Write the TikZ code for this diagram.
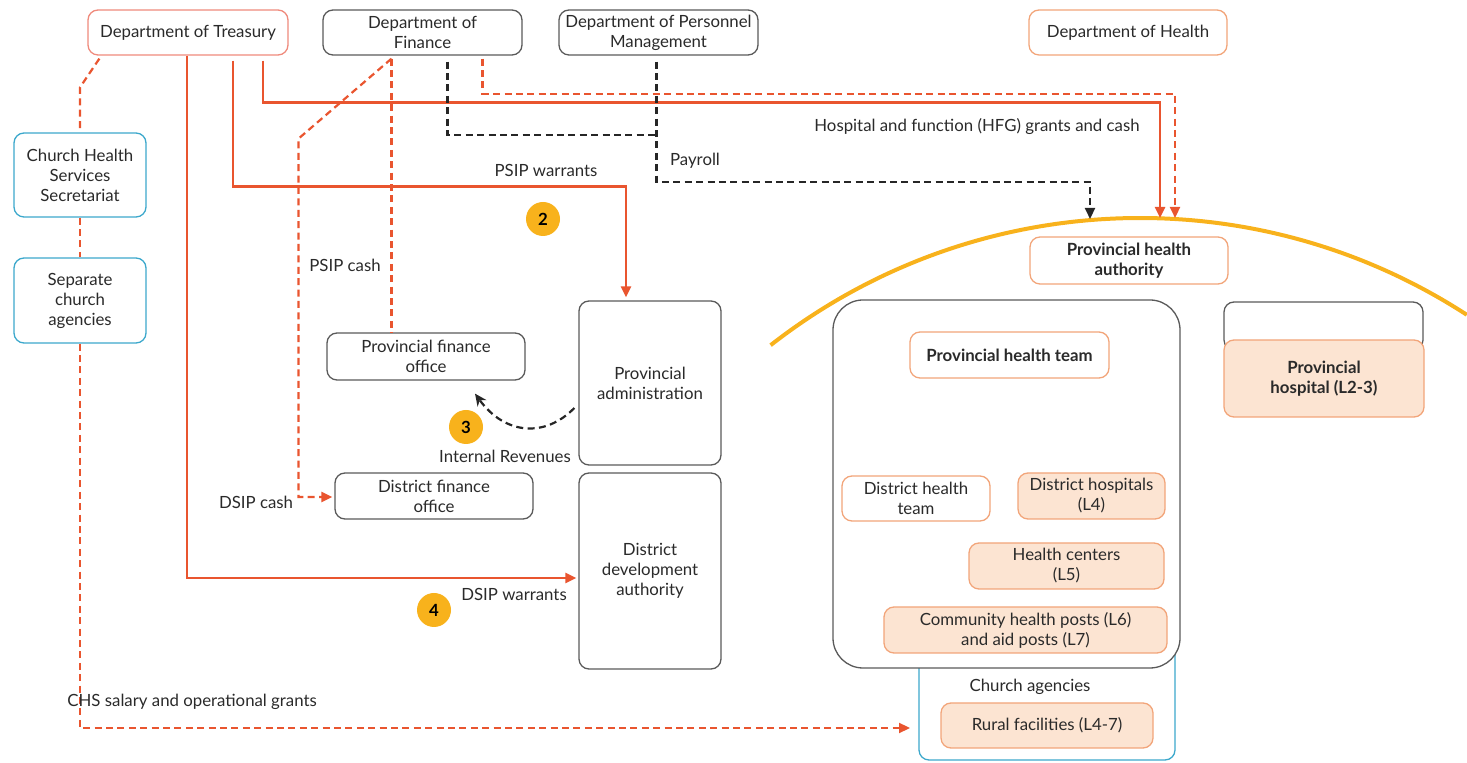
\documentclass[tikz,border=0pt]{standalone}
\usepackage{fontspec}
\setmainfont{Lato}
\usetikzlibrary{arrows.meta,calc}
\definecolor{redl}{HTML}{E9552F}
\definecolor{trb}{HTML}{EF8A7C}
\definecolor{orb}{HTML}{F2A57A}
\definecolor{peach}{HTML}{FCE4D2}
\definecolor{blueb}{HTML}{3CA8CC}
\definecolor{grayb}{HTML}{5A5A5A}
\definecolor{yel}{HTML}{F8B21C}
\definecolor{txt}{HTML}{2A2A2A}
\begin{document}
\begin{tikzpicture}[x=0.5pt,y=-0.5pt,
  font=\fontsize{8.4}{10}\selectfont, text=txt,
  box/.style={draw=grayb, line width=0.65pt, rounded corners=5pt, align=center, inner sep=0pt, fill=white},
  trbox/.style={box, draw=trb},
  orbox/.style={box, draw=orb},
  fbox/.style={box, draw=orb, fill=peach},
  blbox/.style={box, draw=blueb},
  solidr/.style={draw=redl, line width=1.2pt, -{Triangle[length=5.5pt,width=5pt]}},
  dashr/.style={draw=redl, line width=1.1pt, dash pattern=on 3.5pt off 2.2pt},
  dashk/.style={draw=black!85, line width=1.1pt, dash pattern=on 3.5pt off 2.2pt},
  tipr/.style={-{Triangle[length=5.5pt,width=5pt]}},
  bold/.style={font=\fontsize{8.4}{10}\selectfont\bfseries},
  badge/.style={circle, fill=yel, minimum size=17pt, inner sep=0pt, font=\fontsize{8.4}{10}\selectfont\bfseries, text=black},
  lbl/.style={inner sep=0pt}
]
\useasboundingbox (0,0) rectangle (1467,763);

% yellow arc
\draw[draw=yel, line width=2pt] (1140,818) ++(-128:600) arc[start angle=-128, end angle=-57, radius=600];

% top departments
\node[trbox, minimum width=100pt, minimum height=22.5pt] (Tre) at (188,32.5) {Department of Treasury};
\node[box, minimum width=99.5pt, minimum height=22.5pt] (Fin) at (422.5,32.5) {Department of\\Finance};
\node[box, minimum width=99.5pt, minimum height=22.5pt] (Per) at (658.5,32.5) {Department of Personnel\\Management};
\node[orbox, minimum width=99pt, minimum height=22.5pt] (Hea) at (1128,32.5) {Department of Health};

% church column
\node[blbox, minimum width=66pt, minimum height=42pt] (CHS) at (80,175) {Church Health\\Services\\Secretariat};
\node[blbox, minimum width=66pt, minimum height=42.5pt] (Sep) at (80,300.5) {Separate\\church\\agencies};

% middle column
\node[box, minimum width=99pt, minimum height=23.5pt] (PFO) at (426,356.5) {Provincial finance\\office};
\node[box, minimum width=71pt, minimum height=82pt] (PA) at (650,383) {Provincial\\administration};
\node[box, minimum width=99pt, minimum height=23pt] (DFO) at (434,496) {District finance\\office};
\node[box, minimum width=71pt, minimum height=98pt] (DDA) at (650,571) {District\\development\\authority};

% health side
\node[orbox, bold, minimum width=99pt, minimum height=23.5pt] (PHA) at (1129,260.5) {Provincial health\\authority};

\draw[draw=blueb, line width=0.65pt, rounded corners=5pt, fill=white] (919,640) rectangle (1175,760);
\node[lbl] (ChA) at (1030,687) {Church agencies};
\node[fbox, minimum width=106pt, minimum height=22.5pt] (RF) at (1047,725.5) {Rural facilities (L4-7)};

\node[box, rounded corners=15pt, minimum width=173.5pt, minimum height=184pt] (Big) at (1006.5,484) {};
\node[orbox, bold, minimum width=99.5pt, minimum height=23pt] (PHT) at (1009.5,355) {Provincial health team};
\node[box, minimum width=99.5pt, minimum height=24pt] (Emp) at (1323.5,326) {};
\node[fbox, bold, minimum width=100pt, minimum height=38.5pt] (PH) at (1324,378.5) {Provincial\\hospital (L2-3)};
\node[orbox, minimum width=74pt, minimum height=22.5pt] (DHT) at (916,498.5) {District health\\team};
\node[fbox, minimum width=73.5pt, minimum height=23pt] (DH) at (1091.5,496) {District hospitals\\(L4)};
\node[fbox, minimum width=97.5pt, minimum height=23pt] (HC) at (1066.5,566) {Health centers\\(L5)};
\node[fbox, minimum width=141.5pt, minimum height=23pt] (CHP) at (1025.5,630) {Community health posts (L6)\\and aid posts (L7)};

% arc targets
\coordinate (arcK) at (1090,219);
\coordinate (arcR) at (1160,218);
\coordinate (arcD) at (1175,218);
\coordinate (chsEnd) at (910,728);

% church connectors
\draw[dashr] ($(Tre.south west)+(12,3)$) -- ($(CHS.north)+(0,-45)$) -- (CHS.north);
\draw[dashr] (CHS.south) -- (Sep.north);
\draw[dashr, tipr] (Sep.south) |- (chsEnd);
\node[lbl, anchor=west] (lCHS) at (67,702) {CHS salary and operational grants};

% treasury solid flows
\draw[solidr] ($(Tre.south)+(-1,0)$) |- ($(DDA.west)+(-2,7)$);
\draw[solidr] ($(Tre.south)+(45,5)$) -- ++(0,126) -| ($(PA.north)+(-24,-3)$);
\draw[solidr] ($(Tre.south)+(75,5)$) -- ++(0,42) -| (arcR);

% finance dashed flows
\coordinate (finA) at ($(Fin.south)+(-31,3)$);
\draw[dashr, tipr] (finA) -- ($(finA)+(-93,80)$) |- ($(DFO.west)+(-2,1)$);
\draw[dashr] (finA) -- (PFO.north -| finA);
\draw[dashr, tipr] ($(Fin.south)+(60,3)$) -- ++(0,35) -| (arcD);

% payroll
\draw[dashk] ($(Fin.south)+(25,6)$) |- ($(Per.south)+(-2,79)$);
\draw[dashk, -{Triangle[length=5.5pt,width=5pt]}] ($(Per.south)+(-2,6)$) -- ++(0,120) -| (arcK);

% internal revenues
\draw[dashk, -{Stealth[length=6pt,width=5.5pt]}] ($(PA.west)+(-4,25)$) .. controls (545,438) and (505,435) .. ($(PFO.south)+(49,13)$);

% labels
\node[lbl] (lPSIPw) at (546,170) {PSIP warrants};
\node[lbl] (lHFG) at (977,127) {Hospital and function (HFG) grants and cash};
\node[lbl] (lPay) at (695,161) {Payroll};
\node[lbl] (lPSIPc) at (345,265) {PSIP cash};
\node[lbl] (lDSIPc) at (256,502) {DSIP cash};
\node[lbl] (lIR) at (505,456) {Internal Revenues};
\node[lbl] (lDSIPw) at (514,594) {DSIP warrants};

% badges
\node[badge] (b2) at (543,219) {2};
\node[badge] (b3) at (466,427) {3};
\node[badge] (b4) at (434,610) {4};
\end{tikzpicture}
\end{document}
